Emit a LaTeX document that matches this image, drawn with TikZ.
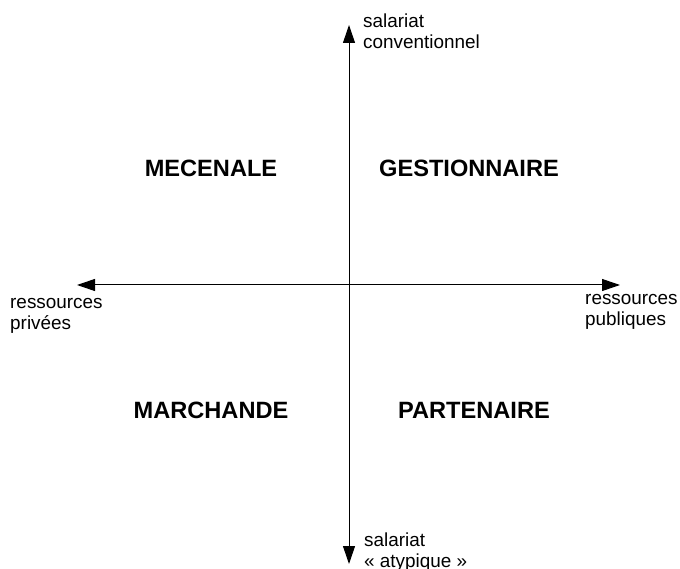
\documentclass[tikz,border=0pt]{standalone}
\usepackage{fontspec}
\setmainfont{Liberation Sans}
\usetikzlibrary{arrows.meta}
\begin{document}
\begin{tikzpicture}[x=1pt,y=-1pt,
  axis/.style={line width=1pt,{Triangle[length=18pt,width=12pt]}-{Triangle[length=18pt,width=12pt]}},
  quad/.style={font=\fontsize{23.6}{27}\selectfont\bfseries,inner sep=0pt},
  lab/.style={font=\fontsize{18.9}{20.5}\selectfont,align=left,anchor=west,inner sep=0pt}]
\useasboundingbox[fill=white] (0,0) rectangle (680,569);
\coordinate (top) at (349,25);
\coordinate (bottom) at (349,564);
\coordinate (left) at (77,285);
\coordinate (right) at (620,285);
\draw[axis] (bottom) -- (top);
\draw[axis] (left) -- (right);
\node[quad] (mecenale) at (211,168) {MECENALE};
\node[quad] (gestionnaire) at (469,168) {GESTIONNAIRE};
\node[quad] (marchande) at (211,410) {MARCHANDE};
\node[quad] (partenaire) at (474,410) {PARTENAIRE};
\node[lab] (conv) at (363,31) {salariat\\conventionnel};
\node[lab] (atyp) at (364,552) {salariat\\« atypique »};
\node[lab] (priv) at (10,316) {ressources\\privées};
\node[lab] (publ) at (585,312) {ressources\\publiques};
\end{tikzpicture}
\end{document}
